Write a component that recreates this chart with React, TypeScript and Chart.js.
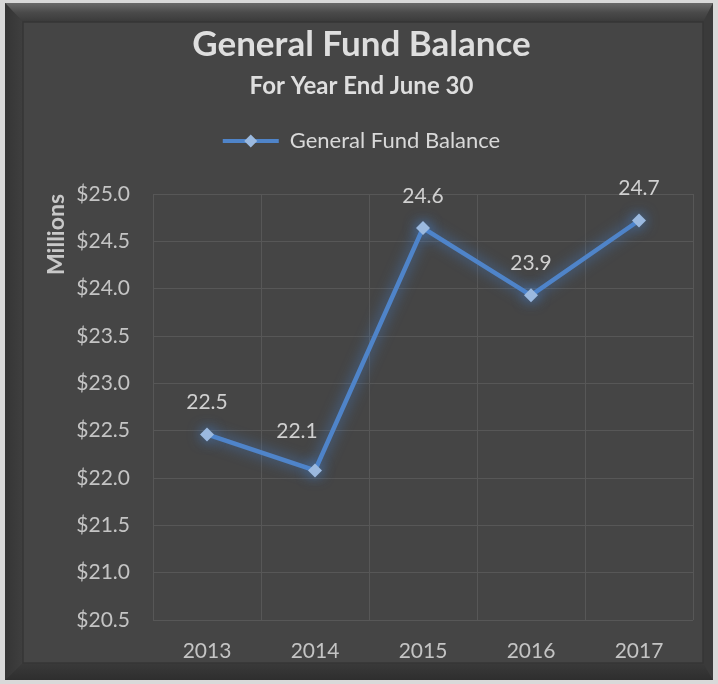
import React, { useEffect, useRef } from "react";
import { Chart, registerables, layouts } from "chart.js";

Chart.register(...registerables);

const categories = ["2013", "2014", "2015", "2016", "2017"];
const fundBalance = [22.46, 22.08, 24.64, 23.93, 24.72];
const dataLabels = ["22.5", "22.1", "24.6", "23.9", "24.7"];
const yMin = 20.5;
const yMax = 25.0;
const yStep = 0.5;

const FONT = "Lato, 'Open Sans', sans-serif";
const W = 718;
const H = 684;

const framePlugin = {
  id: "frame",
  beforeDraw(chart: any) {
    const ctx = chart.ctx;
    ctx.save();
    ctx.fillStyle = "#d9d9d9";
    ctx.fillRect(0, 0, W, H);
    ctx.fillStyle = "#3a3a3a";
    ctx.fillRect(5, 3, 708, 677);
    const g = ctx.createLinearGradient(0, 3, 0, 22);
    g.addColorStop(0, "#6a6a6a");
    g.addColorStop(0.5, "#4a4a4a");
    g.addColorStop(1, "#3a3a3a");
    ctx.fillStyle = g;
    ctx.beginPath();
    ctx.moveTo(5, 3);
    ctx.lineTo(713, 3);
    ctx.lineTo(703, 22);
    ctx.lineTo(23, 22);
    ctx.closePath();
    ctx.fill();
    const gl = ctx.createLinearGradient(5, 0, 23, 0);
    gl.addColorStop(0, "#353535");
    gl.addColorStop(1, "#3f3f3f");
    ctx.fillStyle = gl;
    ctx.beginPath();
    ctx.moveTo(5, 3);
    ctx.lineTo(23, 22);
    ctx.lineTo(23, 663);
    ctx.lineTo(5, 680);
    ctx.closePath();
    ctx.fill();
    const gb = ctx.createLinearGradient(0, 663, 0, 680);
    gb.addColorStop(0, "#3a3a3a");
    gb.addColorStop(1, "#2e2e2e");
    ctx.fillStyle = gb;
    ctx.beginPath();
    ctx.moveTo(5, 680);
    ctx.lineTo(23, 663);
    ctx.lineTo(703, 663);
    ctx.lineTo(713, 680);
    ctx.closePath();
    ctx.fill();
    ctx.fillStyle = "#454545";
    ctx.fillRect(23, 22, 680, 641);
    ctx.strokeStyle = "#363636";
    ctx.lineWidth = 1.5;
    ctx.strokeRect(23, 22, 680, 641);
    ctx.restore();
  },
};

const glowPlugin = {
  id: "glow",
  beforeDatasetDraw(chart: any) {
    const ctx = chart.ctx;
    ctx.save();
    ctx.shadowColor = "rgba(70, 135, 220, 0.8)";
    ctx.shadowBlur = 14;
  },
  afterDatasetDraw(chart: any) {
    chart.ctx.restore();
  },
};

const labelNudge: Record<number, [number, number]> = { 1: [-18, -7] };

const dataLabelPlugin = {
  id: "dataLabels",
  afterDatasetsDraw(chart: any) {
    const ctx = chart.ctx;
    const meta = chart.getDatasetMeta(0);
    ctx.save();
    ctx.font = `21px ${FONT}`;
    ctx.fillStyle = "#d0d0d0";
    ctx.textAlign = "center";
    ctx.textBaseline = "middle";
    meta.data.forEach((pt: any, i: number) => {
      const [dx, dy] = labelNudge[i] || [0, 0];
      ctx.fillText(dataLabels[i], pt.x + dx, pt.y - 32 + dy);
    });
    ctx.restore();
  },
};

const legendDiamondPlugin = {
  id: "legendDiamond",
  afterDraw(chart: any) {
    const legend = chart.legend;
    if (!legend || !legend.legendHitBoxes || !legend.legendHitBoxes.length) return;
    const hb = legend.legendHitBoxes[0];
    const boxW = legend.options.labels.boxWidth;
    const cx = hb.left + boxW / 2;
    const cy = hb.top + hb.height / 2;
    const r = 6.5;
    const ctx = chart.ctx;
    ctx.save();
    ctx.fillStyle = "#9bb9df";
    ctx.beginPath();
    ctx.moveTo(cx, cy - r);
    ctx.lineTo(cx + r, cy);
    ctx.lineTo(cx, cy + r);
    ctx.lineTo(cx - r, cy);
    ctx.closePath();
    ctx.fill();
    ctx.restore();
  },
};

const spacerPlugin = {
  id: "spacer",
  beforeInit(chart: any) {
    const spacer: any = {
      position: "top",
      weight: 0,
      fullSize: true,
      options: {},
      left: 0,
      top: 0,
      right: 0,
      bottom: 0,
      width: 0,
      height: 0,
      isHorizontal() {
        return true;
      },
      update(maxWidth: number) {
        this.width = maxWidth;
        this.height = 32;
      },
      getPadding() {
        return { top: 0, left: 0, right: 0, bottom: 0 };
      },
      draw() {},
    };
    layouts.addBox(chart, spacer);
  },
};

export default function App() {
  const ref = useRef<HTMLCanvasElement | null>(null);

  useEffect(() => {
    document.body.style.margin = "0";
    const canvas = ref.current;
    if (!canvas) return;
    const chart = new Chart(canvas, {
      type: "line",
      data: {
        labels: categories,
        datasets: [
          {
            label: "General Fund Balance",
            data: fundBalance,
            borderColor: "#4f84c9",
            backgroundColor: "#4f84c9",
            borderWidth: 4.5,
            pointStyle: "rectRot",
            pointRadius: 7,
            pointHoverRadius: 7,
            pointBackgroundColor: "#9bb9df",
            pointBorderColor: "#9bb9df",
            pointBorderWidth: 0,
            tension: 0,
          },
        ],
      },
      options: {
        responsive: false,
        animation: false,
        layout: { padding: { top: 0, left: 30, right: 25, bottom: 0 } },
        plugins: {
          title: {
            display: true,
            text: "General Fund Balance",
            color: "#dedede",
            font: { family: FONT, size: 35, weight: "bold" },
            padding: { top: 23.6, bottom: 0 },
          },
          subtitle: {
            display: true,
            text: "For Year End June 30",
            color: "#dedede",
            font: { family: FONT, size: 24, weight: "bold" },
            padding: { top: 6, bottom: 19.6 },
          },
          legend: {
            display: true,
            position: "top",
            labels: {
              color: "#d9d9d9",
              font: { family: FONT, size: 22 },
              boxWidth: 56,
              boxHeight: 4,
              padding: 10,
              generateLabels(chart: any) {
                const items = Chart.defaults.plugins.legend.labels.generateLabels(chart);
                return items.map((it: any) => ({ ...it, lineWidth: 0, strokeStyle: "rgba(0,0,0,0)" }));
              },
            },
          },
          tooltip: { enabled: false },
        },
        scales: {
          x: {
            type: "category",
            offset: true,
            grid: { color: "#575757", lineWidth: 1, drawTicks: false, offset: true },
            border: { display: false },
            ticks: {
              color: "#c4c4c4",
              font: { family: FONT, size: 21 },
              padding: 19,
            },
            afterFit(scale: any) {
              scale.height = 64;
            },
          },
          y: {
            min: yMin,
            max: yMax,
            grid: { color: "#575757", lineWidth: 1, drawTicks: false },
            border: { display: false },
            ticks: {
              stepSize: yStep,
              color: "#c4c4c4",
              font: { family: FONT, size: 21 },
              padding: 23,
              callback: (v: any) => "$" + Number(v).toFixed(1),
            },
            title: {
              display: true,
              text: "Millions",
              align: "end",
              color: "#c8c8c8",
              font: { family: FONT, size: 23, weight: "bold" },
              padding: { top: 13, bottom: 0 },
            },
            afterFit(scale: any) {
              scale.width = 123;
            },
          },
        },
      },
      plugins: [framePlugin, spacerPlugin, glowPlugin, dataLabelPlugin, legendDiamondPlugin],
    });
    return () => chart.destroy();
  }, []);

  return <canvas ref={ref} width={W} height={H} style={{ display: "block", width: W, height: H }} />;
}
